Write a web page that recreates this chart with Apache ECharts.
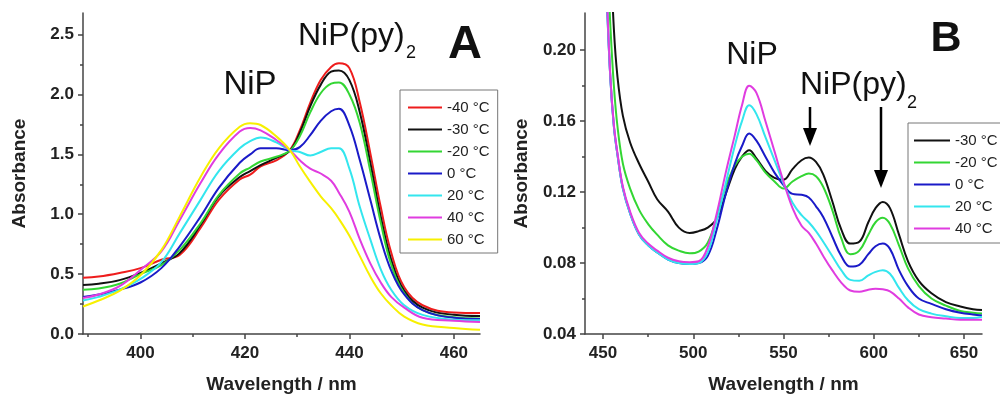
<!DOCTYPE html>
<html>
<head>
<meta charset="utf-8">
<script src="https://cdn.jsdelivr.net/npm/echarts@6/dist/echarts.min.js"></script>
<style>
  html, body { margin: 0; padding: 0; background: #fff; }
  #chart { width: 1000px; height: 396px; }
</style>
</head>
<body>
<div id="chart"></div>
<script>
  // panel A: Soret band, wavelength (nm)
  const wlA = [389, 392, 396, 400, 404, 407.5, 411.5, 415, 419, 421, 423, 426, 428.6, 430.5, 432.5, 434.5, 436.5, 438, 440, 442, 444, 446, 448, 450.5, 454, 460, 465];
  const aM40 = [0.47, 0.48, 0.51, 0.55, 0.62, 0.66, 0.885, 1.12, 1.29, 1.33, 1.40, 1.45, 1.535, 1.70, 1.93, 2.12, 2.23, 2.26, 2.22, 1.93, 1.51, 1.06, 0.68, 0.39, 0.24, 0.18, 0.175];
  const aM30 = [0.41, 0.42, 0.45, 0.51, 0.59, 0.675, 0.91, 1.15, 1.31, 1.36, 1.41, 1.47, 1.53, 1.68, 1.90, 2.08, 2.19, 2.20, 2.12, 1.85, 1.43, 0.98, 0.62, 0.36, 0.22, 0.16, 0.15];
  const aM20 = [0.37, 0.38, 0.42, 0.50, 0.575, 0.70, 0.925, 1.16, 1.34, 1.39, 1.44, 1.48, 1.53, 1.65, 1.85, 2.01, 2.09, 2.10, 2.00, 1.76, 1.36, 0.93, 0.58, 0.34, 0.20, 0.14, 0.13];
  const a0 = [0.31, 0.33, 0.37, 0.43, 0.55, 0.73, 0.98, 1.22, 1.43, 1.50, 1.55, 1.55, 1.535, 1.56, 1.66, 1.78, 1.86, 1.88, 1.74, 1.45, 1.12, 0.79, 0.53, 0.33, 0.20, 0.135, 0.125];
  const a20 = [0.28, 0.31, 0.37, 0.46, 0.60, 0.84, 1.12, 1.36, 1.55, 1.61, 1.64, 1.60, 1.535, 1.52, 1.49, 1.52, 1.55, 1.55, 1.38, 1.06, 0.79, 0.54, 0.37, 0.24, 0.16, 0.12, 0.115];
  const a40 = [0.30, 0.33, 0.40, 0.535, 0.69, 0.95, 1.26, 1.50, 1.69, 1.72, 1.70, 1.62, 1.535, 1.45, 1.38, 1.34, 1.28, 1.18, 1.02, 0.79, 0.59, 0.43, 0.31, 0.22, 0.135, 0.11, 0.10];
  const a60 = [0.23, 0.28, 0.36, 0.49, 0.70, 0.98, 1.31, 1.55, 1.73, 1.76, 1.745, 1.65, 1.535, 1.40, 1.27, 1.15, 1.05, 0.96, 0.82, 0.65, 0.48, 0.34, 0.24, 0.145, 0.08, 0.05, 0.035];

  // panel B: Q bands
  const wlB = [450, 452, 454, 456, 458, 461, 465, 470, 475, 480, 486, 492, 498, 503, 508, 513, 518, 523, 527, 531, 535, 540, 545, 550, 555, 560, 564, 568, 572, 577, 582, 587, 592, 597, 601, 605, 609, 614, 619, 625, 632, 640, 648, 655, 660];
  const bM30 = [0.40, 0.33, 0.26, 0.212, 0.185, 0.163, 0.148, 0.136, 0.126, 0.116, 0.109, 0.100, 0.097, 0.098, 0.100, 0.105, 0.119, 0.133, 0.140, 0.1436, 0.139, 0.132, 0.128, 0.127, 0.133, 0.138, 0.1395, 0.137, 0.130, 0.115, 0.099, 0.091, 0.092, 0.103, 0.111, 0.1145, 0.111, 0.096, 0.081, 0.070, 0.063, 0.058, 0.0555, 0.054, 0.0535];
  const bM20 = [0.32, 0.26, 0.215, 0.18, 0.157, 0.136, 0.122, 0.110, 0.102, 0.096, 0.090, 0.087, 0.0855, 0.0865, 0.0915, 0.106, 0.123, 0.135, 0.140, 0.1417, 0.138, 0.131, 0.126, 0.122, 0.126, 0.129, 0.1305, 0.129, 0.123, 0.110, 0.094, 0.085, 0.087, 0.096, 0.103, 0.1055, 0.102, 0.090, 0.077, 0.067, 0.060, 0.056, 0.053, 0.052, 0.0515];
  const b0 = [0.30, 0.232, 0.185, 0.157, 0.141, 0.122, 0.108, 0.096, 0.090, 0.086, 0.082, 0.080, 0.0795, 0.080, 0.084, 0.099, 0.119, 0.136, 0.146, 0.153, 0.149, 0.140, 0.131, 0.124, 0.119, 0.1185, 0.117, 0.112, 0.106, 0.095, 0.084, 0.078, 0.079, 0.085, 0.0895, 0.091, 0.088, 0.076, 0.067, 0.060, 0.057, 0.054, 0.052, 0.051, 0.0505];
  const b20 = [0.30, 0.232, 0.185, 0.157, 0.141, 0.122, 0.108, 0.096, 0.090, 0.086, 0.082, 0.080, 0.0795, 0.080, 0.086, 0.104, 0.125, 0.146, 0.160, 0.169, 0.164, 0.151, 0.138, 0.125, 0.114, 0.107, 0.103, 0.098, 0.092, 0.084, 0.076, 0.0705, 0.070, 0.073, 0.075, 0.076, 0.074, 0.066, 0.059, 0.054, 0.0515, 0.050, 0.049, 0.049, 0.0497];
  const b40 = [0.30, 0.235, 0.186, 0.158, 0.142, 0.123, 0.109, 0.097, 0.091, 0.087, 0.083, 0.081, 0.0805, 0.081, 0.089, 0.108, 0.131, 0.152, 0.169, 0.180, 0.176, 0.160, 0.143, 0.126, 0.111, 0.101, 0.097, 0.091, 0.084, 0.076, 0.069, 0.0645, 0.0638, 0.065, 0.0655, 0.0652, 0.064, 0.060, 0.055, 0.051, 0.0495, 0.0487, 0.048, 0.048, 0.048];

  const namesA = ['-40 °C', '-30 °C', '-20 °C', '0 °C', '20 °C', '40 °C', '60 °C'];
  const namesB = ['-30 °C', '-20 °C', '0 °C', '20 °C', '40 °C'];
  const colorsA = ['#ee1c1c', '#111111', '#33d633', '#1a1ac8', '#33e6ee', '#e03ce0', '#f7f000'];
  const colorsB = ['#111111', '#33d633', '#1a1ac8', '#33e6ee', '#e03ce0'];

  // axis ticks
  const xMajorA = [400, 420, 440, 460];
  const xMinorA = [390, 410, 430, 450];
  const yMajorA = [0, 0.5, 1.0, 1.5, 2.0, 2.5];
  const yMinorA = [0.25, 0.75, 1.25, 1.75, 2.25];
  const xMajorB = [450, 500, 550, 600, 650];
  const xMinorB = [475, 525, 575, 625];
  const yMajorB = [0.04, 0.08, 0.12, 0.16, 0.20];
  const yMinorB = [0.06, 0.10, 0.14, 0.18];

  const FONT = 'Liberation Sans, Arial, sans-serif';
  const axisCol = '#444';

  function mainAxis(grid, min, max, major, digits, margin, extra) {
    return Object.assign({
      type: 'value', gridIndex: grid, min: min, max: max,
      axisLine: { show: true, onZero: false, lineStyle: { color: axisCol, width: 1.5 } },
      axisTick: { show: true, customValues: major, length: 5, lineStyle: { color: axisCol, width: 1.5 } },
      axisLabel: {
        customValues: major, fontSize: 17, fontWeight: 'bold', color: '#222', fontFamily: FONT, margin: margin,
        formatter: v => digits < 0 ? String(v) : Number(v).toFixed(digits)
      },
      splitLine: { show: false },
      nameTextStyle: { fontSize: 19, fontWeight: 'bold', color: '#222', fontFamily: FONT }
    }, extra);
  }
  function minorAxis(grid, min, max, minor, pos) {
    return {
      type: 'value', gridIndex: grid, min: min, max: max, position: pos, offset: 0,
      axisLine: { show: false },
      axisTick: { show: true, customValues: minor, length: 3, lineStyle: { color: axisCol, width: 1.5 } },
      axisLabel: { show: false },
      splitLine: { show: false }
    };
  }

  function mk(name, color, wl, vals, xi, yi) {
    return {
      name: name, type: 'line', xAxisIndex: xi, yAxisIndex: yi,
      data: wl.map((w, i) => [w, vals[i]]),
      symbol: 'none', smooth: 0.4, clip: true,
      lineStyle: { width: 2, color: color }, itemStyle: { color: color }
    };
  }

  const seriesA = [aM40, aM30, aM20, a0, a20, a40, a60].map((v, i) => mk(namesA[i], colorsA[i], wlA, v, 0, 0));
  const seriesB = [bM30, bM20, b0, b20, b40].map((v, i) => mk(namesB[i], colorsB[i], wlB, v, 2, 2));

  function txt(x, y, s, size, align, bold) {
    return {
      type: 'text', x: x, y: y, z: 100,
      style: { text: s, fontSize: size, fontFamily: FONT, fontWeight: bold ? 'bold' : 'normal',
        fill: '#111', align: align, verticalAlign: 'middle' }
    };
  }
  function arrow(x, y1, y2) {
    return [
      { type: 'line', z: 100, shape: { x1: x, y1: y1, x2: x, y2: y2 - 12 }, style: { stroke: '#000', lineWidth: 2.5 } },
      { type: 'polygon', z: 100, shape: { points: [[x - 7, y2 - 18], [x + 7, y2 - 18], [x, y2]] }, style: { fill: '#000' } }
    ];
  }

  const legendBase = {
    orient: 'vertical', itemHeight: 16, itemGap: 7,
    borderColor: '#777', borderWidth: 1, backgroundColor: '#fff', borderRadius: 0,
    itemStyle: { opacity: 0 },
    textStyle: { fontSize: 15, color: '#222', fontFamily: FONT }
  };

  const chart = echarts.init(document.getElementById('chart'), null, { renderer: 'canvas' });
  chart.setOption({
    animation: false,
    backgroundColor: '#fff',
    grid: [
      { left: 83, top: 13, width: 397, height: 321, containLabel: false, outerBoundsMode: 'none' },
      { left: 585, top: 13, width: 397, height: 321, containLabel: false, outerBoundsMode: 'none' }
    ],
    xAxis: [
      mainAxis(0, 389, 465, xMajorA, -1, 11, { position: 'bottom', name: 'Wavelength / nm', nameLocation: 'middle', nameGap: 41 }),
      minorAxis(0, 389, 465, xMinorA, 'bottom'),
      mainAxis(1, 440, 660, xMajorB, -1, 11, { position: 'bottom', name: 'Wavelength / nm', nameLocation: 'middle', nameGap: 41 }),
      minorAxis(1, 440, 660, xMinorB, 'bottom')
    ],
    yAxis: [
      mainAxis(0, 0, 2.68, yMajorA, 1, 9, { position: 'left', name: 'Absorbance', nameLocation: 'middle', nameRotate: 90, nameGap: 54 }),
      minorAxis(0, 0, 2.68, yMinorA, 'left'),
      mainAxis(1, 0.04, 0.221, yMajorB, 2, 9, { position: 'left', name: 'Absorbance', nameLocation: 'middle', nameRotate: 90, nameGap: 54 }),
      minorAxis(1, 0.04, 0.221, yMinorB, 'left')
    ],
    legend: [
      Object.assign({}, legendBase, { left: 400, top: 90, data: namesA, itemWidth: 34, padding: [10, 8, 6, 7] }),
      Object.assign({}, legendBase, { left: 908, top: 123, data: namesB, itemWidth: 36, padding: [10, 8, 7, 5] })
    ],
    graphic: [
      txt(250, 85, 'NiP', 33, 'center'),
      txt(298, 36, 'NiP(py)', 32, 'left'),
      txt(406, 53, '2', 18, 'left'),
      txt(465, 45, 'A', 47, 'center', true),
      txt(752, 55, 'NiP', 32, 'center'),
      txt(800, 85, 'NiP(py)', 32, 'left'),
      txt(907, 103, '2', 18, 'left'),
      txt(946, 39, 'B', 43, 'center', true)
    ].concat(arrow(810, 107, 146), arrow(881, 107, 188)),
    series: seriesA.concat(seriesB)
  });
</script>
</body>
</html>
